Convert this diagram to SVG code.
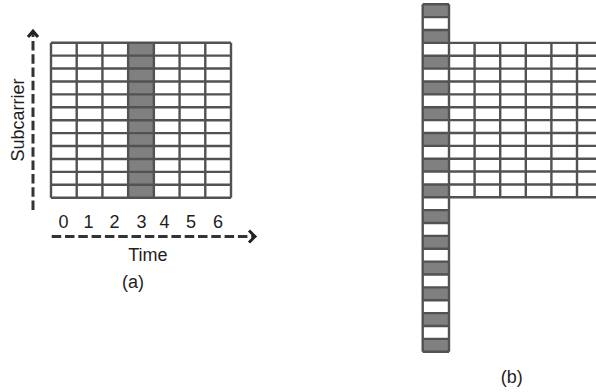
<svg xmlns="http://www.w3.org/2000/svg" width="596" height="392" viewBox="0 0 596 392">
<style>
.dark{fill:#808080;stroke:none}
.grid{fill:none;stroke:#525252;stroke-width:2.4}
.axis{fill:none;stroke:#333;stroke-width:3;stroke-dasharray:9.5 3.8}
.head{fill:none;stroke:#222;stroke-width:3;stroke-linejoin:miter}
text{font-family:"Liberation Sans",Arial,sans-serif;font-size:18px;fill:#1e1e1e}
</style>
<rect width="596" height="392" fill="#fff"/>
<g id="grid-a">
<rect class="dark" x="128.14" y="42.7" width="25.72" height="155"/>
<path class="grid" d="M51 42.7V197.7M76.71 42.7V197.7M102.43 42.7V197.7M128.14 42.7V197.7M153.86 42.7V197.7M179.57 42.7V197.7M205.29 42.7V197.7M231 42.7V197.7
M51 42.7H231M51 55.62H231M51 68.53H231M51 81.45H231M51 94.37H231M51 107.28H231M51 120.2H231M51 133.12H231M51 146.03H231M51 158.95H231M51 171.87H231M51 184.78H231M51 197.7H231"/>
</g>
<g id="grid-b-column">
<rect class="dark" x="422.7" y="4.3" width="26.3" height="12.87"/>
<rect class="dark" x="422.7" y="30.03" width="26.3" height="12.87"/>
<rect class="dark" x="422.7" y="55.77" width="26.3" height="12.87"/>
<rect class="dark" x="422.7" y="81.5" width="26.3" height="12.87"/>
<rect class="dark" x="422.7" y="107.24" width="26.3" height="12.87"/>
<rect class="dark" x="422.7" y="132.97" width="26.3" height="12.87"/>
<rect class="dark" x="422.7" y="158.7" width="26.3" height="12.87"/>
<rect class="dark" x="422.7" y="184.44" width="26.3" height="12.87"/>
<rect class="dark" x="422.7" y="210.17" width="26.3" height="12.87"/>
<rect class="dark" x="422.7" y="235.91" width="26.3" height="12.87"/>
<rect class="dark" x="422.7" y="261.64" width="26.3" height="12.87"/>
<rect class="dark" x="422.7" y="287.37" width="26.3" height="12.87"/>
<rect class="dark" x="422.7" y="313.11" width="26.3" height="12.87"/>
<rect class="dark" x="422.7" y="338.84" width="26.3" height="12.87"/>
<path class="grid" d="M422.7 4.3V351.71M449 4.3V351.71
M422.7 4.3H449M422.7 17.17H449M422.7 30.03H449M422.7 42.9H449M422.7 55.77H449M422.7 68.64H449M422.7 81.5H449M422.7 94.37H449M422.7 107.24H449M422.7 120.1H449M422.7 132.97H449M422.7 145.84H449M422.7 158.7H449M422.7 171.57H449M422.7 184.44H449M422.7 197.31H449M422.7 210.17H449M422.7 223.04H449M422.7 235.91H449M422.7 248.77H449M422.7 261.64H449M422.7 274.51H449M422.7 287.37H449M422.7 300.24H449M422.7 313.11H449M422.7 325.98H449M422.7 338.84H449M422.7 351.71H449"/>
</g>
<g id="grid-b">
<path class="grid" d="M474.6 42.9V197.31M500.2 42.9V197.31M525.8 42.9V197.31M551.4 42.9V197.31M577 42.9V197.31
M449 42.9H600M449 55.77H600M449 68.64H600M449 81.5H600M449 94.37H600M449 107.24H600M449 120.1H600M449 132.97H600M449 145.84H600M449 158.7H600M449 171.57H600M449 184.44H600M449 197.31H600"/>
</g>
<g id="connectors">
<path class="axis" d="M33 210V33"/>
<path class="head" d="M28 37L33 31L38 37"/>
<path class="axis" d="M51.7 236.5H253"/>
<path class="head" d="M249 230.5L255 236.5L249 242.5"/>
</g>
<g id="labels">
<text transform="translate(23.5 120) rotate(-90)" text-anchor="middle">Subcarrier</text>
<text x="63.5" y="228.3" text-anchor="middle">0</text>
<text x="88.5" y="228.3" text-anchor="middle">1</text>
<text x="114.5" y="228.3" text-anchor="middle">2</text>
<text x="141.5" y="228.3" text-anchor="middle">3</text>
<text x="164.5" y="228.3" text-anchor="middle">4</text>
<text x="191" y="228.3" text-anchor="middle">5</text>
<text x="218" y="228.3" text-anchor="middle">6</text>
<text x="147.8" y="260.7" text-anchor="middle">Time</text>
<text x="133" y="287.5" text-anchor="middle">(a)</text>
<text x="511.7" y="382.9" text-anchor="middle">(b)</text>
</g>
</svg>
